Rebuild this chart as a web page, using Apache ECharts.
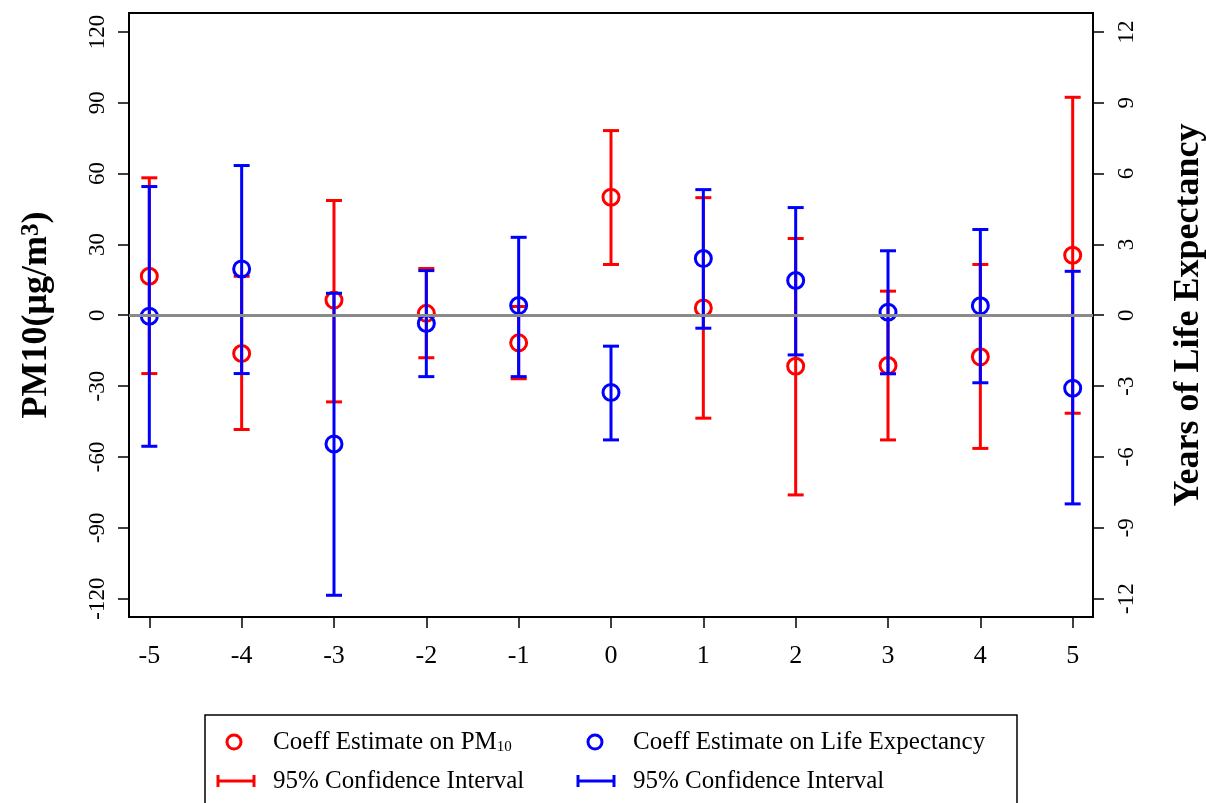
<!DOCTYPE html>
<html>
<head>
<meta charset="UTF-8">
<title>PM10 and life expectancy event study</title>
<script type="text/javascript" src="https://cdn.jsdelivr.net/npm/echarts@6/dist/echarts.min.js"></script>
<style>
  html, body { margin: 0; padding: 0; background: #fff; }
</style>
</head>
<body>

<div id="box" style="width:1206px;height:803px;"></div>

<script type="text/javascript">

// years relative to event
var years = [-5, -4, -3, -2, -1, 0, 1, 2, 3, 4, 5];

// coefficient estimate on PM10 (left axis) and its 95% CI
var pmEst  = [16.5, -16.2, 6.4, 0.8, -11.7, 50.0, 3.1, -21.6, -21.3, -17.6, 25.4];
var pmLow  = [-24.7, -48.4, -36.7, -18.0, -26.9, 21.5, -43.6, -76.1, -52.8, -56.4, -41.5];
var pmHigh = [58.2, 16.5, 48.6, 19.8, 3.7, 78.2, 49.8, 32.5, 10.2, 21.5, 92.3];

// coefficient estimate on life expectancy (right axis) and its 95% CI
var leEst  = [-0.04, 1.96, -5.45, -0.35, 0.41, -3.27, 2.40, 1.47, 0.13, 0.40, -3.09];
var leLow  = [-5.55, -2.47, -11.86, -2.60, -2.60, -5.28, -0.55, -1.68, -2.48, -2.86, -7.99];
var leHigh = [5.45, 6.34, 0.93, 1.89, 3.30, -1.31, 5.32, 4.56, 2.73, 3.63, 1.86];

// tick labels
var leftTicks  = [-120, -90, -60, -30, 0, 30, 60, 90, 120];
var rightTicks = [-12, -9, -6, -3, 0, 3, 6, 9, 12];

var FONT = 'Liberation Serif';

function rows(est, low, high) {
  return years.map(function (y, i) { return [y, low[i], high[i], est[i]]; });
}

// error bar + hollow circle
function makeRender(color) {
  return function (params, api) {
    var x = api.value(0);
    var pLo = api.coord([x, api.value(1)]);
    var pHi = api.coord([x, api.value(2)]);
    var pE  = api.coord([x, api.value(3)]);
    var cap = 8;
    var ls = { stroke: color, lineWidth: 3, fill: null };
    return {
      type: 'group',
      children: [
        { type: 'line', shape: { x1: pLo[0], y1: pLo[1], x2: pHi[0], y2: pHi[1] }, style: ls },
        { type: 'line', shape: { x1: pLo[0] - cap, y1: pLo[1], x2: pLo[0] + cap, y2: pLo[1] }, style: ls },
        { type: 'line', shape: { x1: pHi[0] - cap, y1: pHi[1], x2: pHi[0] + cap, y2: pHi[1] }, style: ls },
        { type: 'circle', shape: { cx: pE[0], cy: pE[1], r: 8 }, style: { stroke: color, lineWidth: 3, fill: null } }
      ]
    };
  };
}

var mychart = echarts.init(document.getElementById('box'));

var axisLineStyle = { color: '#000', width: 2 };

var option = {
  animation: false,
  backgroundColor: '#fff',
  grid: {
    left: 129, right: 113, top: 13, bottom: 186,
    outerBoundsMode: 'none',
    show: true, borderColor: '#000', borderWidth: 2, backgroundColor: 'transparent'
  },
  xAxis: {
    type: 'value',
    min: -5.22, max: 5.22,
    splitLine: { show: false },
    axisLine: { onZero: false, lineStyle: axisLineStyle },
    axisTick: { length: 11, lineStyle: { color: '#000', width: 1.5 }, customValues: years },
    axisLabel: { customValues: years, fontFamily: FONT, fontSize: 26, color: '#000', margin: 26 }
  },
  yAxis: [{
    type: 'value',
    position: 'left',
    min: -127.8, max: 128,
    name: 'PM10(μg/m{sup|3})',
    nameLocation: 'middle',
    nameRotate: 90,
    nameGap: 67,
    nameTextStyle: {
      fontFamily: FONT, fontSize: 36, fontWeight: 'bold', color: '#000',
      rich: { sup: { fontFamily: FONT, fontSize: 25, fontWeight: 'bold', color: '#000', verticalAlign: 'top', lineHeight: 25, padding: [0, 0, 34, 0] } }
    },
    splitLine: { show: false },
    axisLine: { onZero: false, lineStyle: axisLineStyle },
    axisTick: { length: 11, lineStyle: { color: '#000', width: 1.5 }, customValues: leftTicks },
    axisLabel: {
      customValues: leftTicks, rotate: 90, align: 'center', verticalAlign: 'bottom',
      fontFamily: FONT, fontSize: 23, color: '#000', margin: 20
    }
  }, {
    type: 'value',
    position: 'right',
    min: -12.78, max: 12.8,
    name: 'Years of Life Expectancy',
    nameLocation: 'middle',
    nameRotate: 90,
    nameGap: 78,
    nameTextStyle: { fontFamily: FONT, fontSize: 36, fontWeight: 'bold', color: '#000' },
    splitLine: { show: false },
    axisLine: { onZero: false, lineStyle: axisLineStyle },
    axisTick: { length: 11, lineStyle: { color: '#000', width: 1.5 }, customValues: rightTicks },
    axisLabel: {
      customValues: rightTicks, rotate: 90, align: 'center', verticalAlign: 'top',
      fontFamily: FONT, fontSize: 23, color: '#000', margin: 22
    }
  }],
  series: [{
    // zero reference line
    type: 'line',
    data: [],
    silent: true,
    markLine: {
      silent: true,
      symbol: 'none',
      label: { show: false },
      lineStyle: { color: '#8a8a8a', width: 3, type: 'solid' },
      data: [{ yAxis: 0 }]
    }
  }, {
    name: 'PM10',
    type: 'custom',
    xAxisIndex: 0,
    yAxisIndex: 0,
    renderItem: makeRender('#ff0000'),
    encode: { x: 0, y: [1, 2, 3] },
    data: rows(pmEst, pmLow, pmHigh)
  }, {
    name: 'Life Expectancy',
    type: 'custom',
    xAxisIndex: 0,
    yAxisIndex: 1,
    renderItem: makeRender('#0000ff'),
    encode: { x: 0, y: [1, 2, 3] },
    data: rows(leEst, leLow, leHigh)
  }],
  // legend box drawn by hand (two entries share one label)
  graphic: [
    { type: 'rect', shape: { x: 205, y: 715, width: 812, height: 100 }, style: { fill: '#fff', stroke: '#000', lineWidth: 1.5 } },
    { type: 'circle', shape: { cx: 234, cy: 742, r: 7 }, style: { fill: null, stroke: '#ff0000', lineWidth: 3 } },
    { type: 'text', x: 273, y: 742, style: {
        text: 'Coeff Estimate on PM{sub|10}', fontFamily: FONT, fontSize: 25, fill: '#000', verticalAlign: 'middle',
        rich: { sub: { fontFamily: FONT, fontSize: 15, fill: '#000', verticalAlign: 'bottom', padding: [10, 0, 0, 0] } } } },
    { type: 'circle', shape: { cx: 595, cy: 742, r: 7 }, style: { fill: null, stroke: '#0000ff', lineWidth: 3 } },
    { type: 'text', x: 633, y: 742, style: { text: 'Coeff Estimate on Life Expectancy', fontFamily: FONT, fontSize: 25, fill: '#000', verticalAlign: 'middle' } },
    { type: 'polyline', shape: { points: [[218, 775], [218, 787]] }, style: { stroke: '#ff0000', lineWidth: 3 } },
    { type: 'polyline', shape: { points: [[218, 781], [254, 781]] }, style: { stroke: '#ff0000', lineWidth: 3 } },
    { type: 'polyline', shape: { points: [[254, 775], [254, 787]] }, style: { stroke: '#ff0000', lineWidth: 3 } },
    { type: 'text', x: 273, y: 781, style: { text: '95% Confidence Interval', fontFamily: FONT, fontSize: 25, fill: '#000', verticalAlign: 'middle' } },
    { type: 'polyline', shape: { points: [[578, 775], [578, 787]] }, style: { stroke: '#0000ff', lineWidth: 3 } },
    { type: 'polyline', shape: { points: [[578, 781], [614, 781]] }, style: { stroke: '#0000ff', lineWidth: 3 } },
    { type: 'polyline', shape: { points: [[614, 775], [614, 787]] }, style: { stroke: '#0000ff', lineWidth: 3 } },
    { type: 'text', x: 633, y: 781, style: { text: '95% Confidence Interval', fontFamily: FONT, fontSize: 25, fill: '#000', verticalAlign: 'middle' } }
  ]
};

mychart.setOption(option);
</script>
</body>
</html>
